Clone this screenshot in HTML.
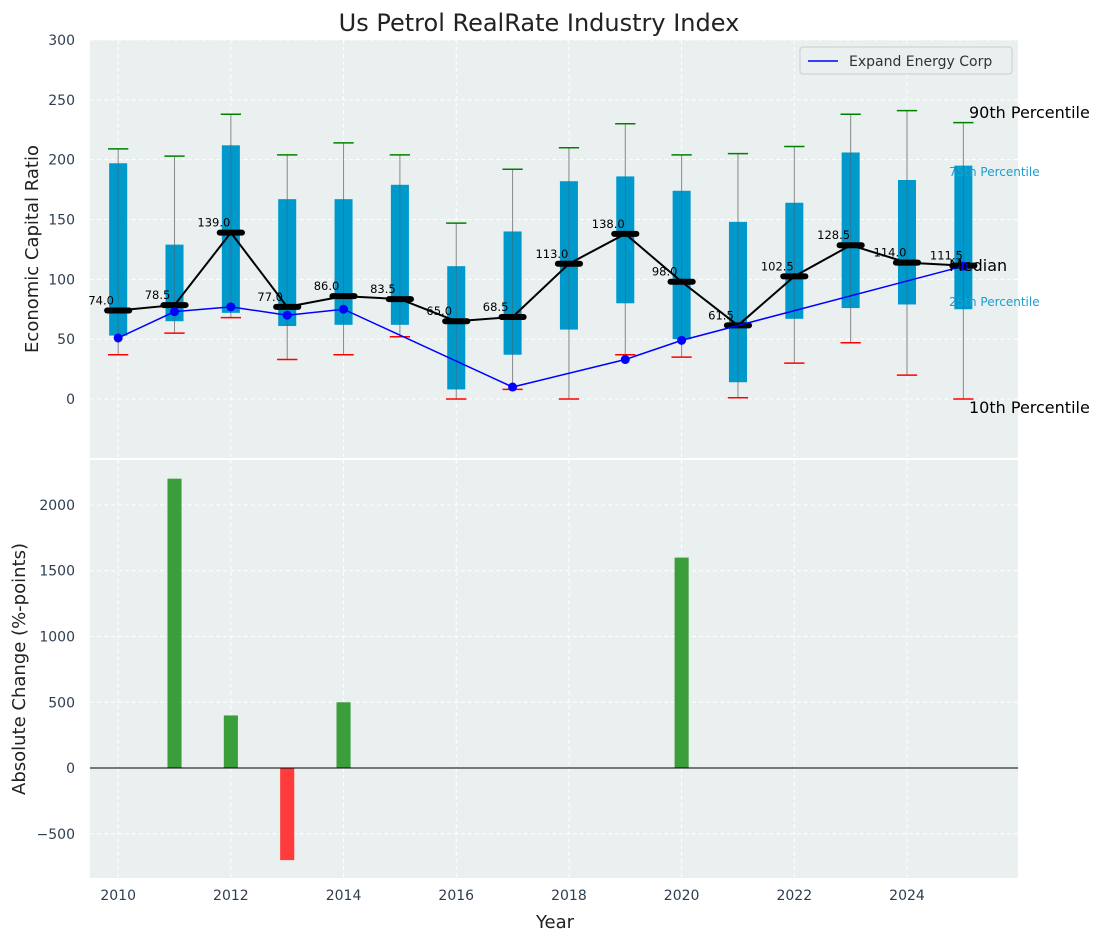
<!DOCTYPE html>
<html><head><meta charset="utf-8"><style>
body{margin:0;background:#fff;font-family:"Liberation Sans","DejaVu Sans",sans-serif}
svg text{font-family:"DejaVu Sans","Liberation Sans",sans-serif}
</style></head><body>
<svg id="c" width="1104" height="942" xmlns="http://www.w3.org/2000/svg"></svg>
<script>
const years=[2010,2011,2012,2013,2014,2015,2016,2017,2018,2019,2020,2021,2022,2023,2024,2025];
const p10=[37,55,68,33,37,52,0,8,0,37,35,1,30,47,20,0];
const p25=[53,65,72,61,62,62,8,37,58,80,50,14,67,76,79,75];
const medians=[74,78.5,139,77,86,83.5,65,68.5,113,138,98,61.5,102.5,128.5,114,111.5];
const p75=[197,129,212,167,167,179,111,140,182,186,174,148,164,206,183,195];
const p90=[209,203,238,204,214,204,147,192,210,230,204,205,211,238,241,231];
const company=[51,73,77,70,75,null,null,10,null,33,49,null,null,null,null,111];
const changeYears=[2011,2012,2013,2014,2020];
const changes=[2200,400,-700,500,1600];
const yTicksTop=[0,50,100,150,200,250,300];
const yTicksBot=[-500,0,500,1000,1500,2000];
const xTicks=[2010,2012,2014,2016,2018,2020,2022,2024];

const NS="http://www.w3.org/2000/svg";
const svg=document.getElementById('c');
function mk(tag,attrs,parent,text){const e=document.createElementNS(NS,tag);for(const k in attrs)e.setAttribute(k,attrs[k]);if(text!==undefined)e.textContent=text;(parent||svg).appendChild(e);return e;}
const L=90,R=1018;
const X=v=>L+(v-2009.5)/(2025.97-2009.5)*(R-L);
const T0=40,T1=458,B0=460,B1=878;
const Yt=v=>T0+(300-v)/(300-(-49.3))*(T1-T0);
const Yb=v=>B0+(2342-v)/(2342-(-836))*(B1-B0);

let e=mk('rect',{x:L,y:T0,width:R-L,height:T1-T0,fill:'#eaeff0'});

e=mk('rect',{x:L,y:B0,width:R-L,height:B1-B0,fill:'#eaeff0'});


xTicks.forEach(t=>{
 mk('line',{x1:X(t),x2:X(t),y1:T0,y2:T1,stroke:'#fff','stroke-dasharray':'4,3','stroke-width':1});
 mk('line',{x1:X(t),x2:X(t),y1:B0,y2:B1,stroke:'#fff','stroke-dasharray':'4,3','stroke-width':1});
 const t1=mk('text',{x:X(t),y:900,'text-anchor':'middle','font-size':14,fill:'#2e3e50'},svg,String(t));
 
});
yTicksTop.forEach(t=>{
 mk('line',{x1:L,x2:R,y1:Yt(t),y2:Yt(t),stroke:'#fff','stroke-dasharray':'4,3'});
 const tx=mk('text',{x:75,y:Yt(t)+5,'text-anchor':'end','font-size':14,fill:'#2e3e50'},svg,String(t));
 
});
yTicksBot.forEach(t=>{
 mk('line',{x1:L,x2:R,y1:Yb(t),y2:Yb(t),stroke:'#fff','stroke-dasharray':'4,3'});
 const tx=mk('text',{x:75,y:Yb(t)+5,'text-anchor':'end','font-size':14,fill:'#2e3e50'},svg,t<0?'\u2212'+(-t):String(t));
 
});

const bw=0.32,cw=0.36,mw=0.5;
years.forEach((y,i)=>{
 const x=X(y);
 const g=mk('g',{});
 
 mk('line',{x1:x,x2:x,y1:Yt(p10[i]),y2:Yt(p90[i]),stroke:'#888','stroke-width':1},g);
 const w=X(y+bw/2)-x;
 mk('rect',{x:x-w,y:Yt(p75[i]),width:2*w,height:Yt(p25[i])-Yt(p75[i]),fill:'#0099cc'},g);
 mk('line',{x1:x,x2:x,y1:Yt(p75[i]),y2:Yt(p25[i]),stroke:'#555','stroke-width':0.8,opacity:0.5},g);
 const c=X(y+cw/2)-x;
 mk('line',{x1:x-c,x2:x+c,y1:Yt(p90[i]),y2:Yt(p90[i]),stroke:'green','stroke-width':1.5},g);
 mk('line',{x1:x-c,x2:x+c,y1:Yt(p10[i]),y2:Yt(p10[i]),stroke:'red','stroke-width':1.5},g);
});
let pts=years.map((y,i)=>X(y)+','+Yt(medians[i])).join(' ');
e=mk('polyline',{points:pts,fill:'none',stroke:'#000','stroke-width':2});

years.forEach((y,i)=>{
 const x=X(y),m=X(y+mw/2)-x;
 const s=mk('line',{x1:x-m+3,x2:x+m-3,y1:Yt(medians[i]),y2:Yt(medians[i]),stroke:'#000','stroke-width':6,'stroke-linecap':'round'});
 
 const t=mk('text',{x:x-17,y:Yt(medians[i])-6,'text-anchor':'middle','font-size':11.5,fill:'#000'},svg,medians[i].toFixed(1));
 
});
const cp=[];years.forEach((y,i)=>{if(company[i]!==null)cp.push([X(y),Yt(company[i])]);});
e=mk('polyline',{points:cp.map(p=>p.join(',')).join(' '),fill:'none',stroke:'blue','stroke-width':1.5});

cp.forEach(p=>{const d=mk('circle',{cx:p[0],cy:p[1],r:4.5,fill:'blue'});
 });

const ann=[[969,118,'90th Percentile',16,'#000'],[949,176,'75th Percentile',12,'#1a9fd0'],[949,271,'Median',16,'#000'],[949,306,'25th Percentile',12,'#1a9fd0'],[969,413,'10th Percentile',16,'#000']];
ann.forEach(a=>{const t=mk('text',{x:a[0],y:a[1],'font-size':a[3],fill:a[4]},svg,a[2]);
 });

const lg=mk('g',{});
mk('rect',{x:800,y:47,width:212,height:27,rx:3,fill:'#eaeff0',stroke:'#ccc'},lg);
mk('line',{x1:808,x2:838,y1:61,y2:61,stroke:'blue','stroke-width':1.5},lg);
mk('text',{x:849,y:66,'font-size':14,fill:'#333'},lg,'Expand Energy Corp');

const bwid=0.25;
changeYears.forEach((y,i)=>{
 const v=changes[i];const x0=X(y-bwid/2),x1=X(y+bwid/2);
 const r=mk('rect',{x:x0,y:Math.min(Yb(v),Yb(0)),width:x1-x0,height:Math.abs(Yb(v)-Yb(0)),fill:v>=0?'#3a9e3a':'#ff3b3b'});
 
});
mk('line',{x1:L,x2:R,y1:Yb(0),y2:Yb(0),stroke:'#000','stroke-width':1});

e=mk('text',{x:539,y:31,'text-anchor':'middle','font-size':24,fill:'#222'},svg,'Us Petrol RealRate Industry Index');

e=mk('text',{x:0,y:0,'text-anchor':'middle','font-size':18,fill:'#222',transform:'translate(38,249) rotate(-90)'},svg,'Economic Capital Ratio');

e=mk('text',{x:0,y:0,'text-anchor':'middle','font-size':18,fill:'#222',transform:'translate(25,669) rotate(-90)'},svg,'Absolute Change (%-points)');

e=mk('text',{x:555,y:928,'text-anchor':'middle','font-size':18,fill:'#222'},svg,'Year');

</script>
</body></html>
